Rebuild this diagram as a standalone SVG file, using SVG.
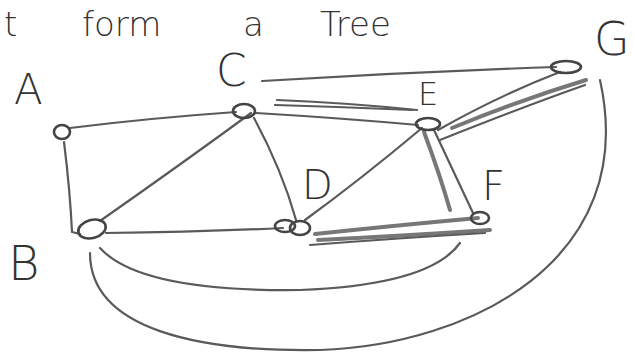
<svg xmlns="http://www.w3.org/2000/svg" width="634" height="356" viewBox="0 0 634 356">
<style>
.e{fill:none;stroke:#5a5a5a;stroke-width:2.2;stroke-linecap:round}
.h{fill:none;stroke:#777;stroke-width:4;stroke-linecap:round}
.n{fill:none;stroke:#444;stroke-width:2.6}
.t{font-family:"DejaVu Sans",sans-serif;fill:#333;font-weight:300}
</style>
<rect width="634" height="356" fill="#fff"/>
<g id="title">
<text class="t" x="4" y="36" font-size="34">t</text>
<text class="t" x="82" y="36" font-size="34">form</text>
<text class="t" x="243" y="36" font-size="34">a</text>
<text class="t" x="320" y="36" font-size="34">Tree</text>
</g>
<g id="connectors">
<path class="e" d="M70,128 Q150,118 236,112"/>
<path class="e" d="M64,142 Q70,190 72,232 L80,234"/>
<path class="e" d="M100,221 Q180,165 251,113"/>
<path class="e" d="M254,118 Q282,170 296,220"/>
<path class="e" d="M256,113 Q340,118 418,125"/>
<path class="e" d="M277,100 Q350,103 417,110"/>
<path class="e" d="M275,105 Q345,107 413,110"/>
<path class="e" d="M262,81 Q410,72 556,67"/>
<path class="e" d="M106,233 Q200,232 283,228"/>
<path class="e" d="M305,220 Q360,180 422,128"/>
<path class="h" d="M424,132 Q440,175 450,210"/>
<path class="e" d="M434,130 Q455,175 473,213"/>
<path class="e" d="M438,130 Q500,95 560,72"/>
<path class="h" d="M452,128 Q520,100 586,80"/>
<path class="e" d="M440,140 Q520,108 585,85"/>
<path class="h" d="M315,234 Q400,225 478,218"/>
<path class="h" d="M318,240 Q400,236 490,230"/>
<path class="e" d="M310,245 Q400,238 485,233"/>
<path class="e" d="M100,248 Q140,292 300,290 Q430,285 460,243"/>
<path class="e" d="M90,253 C90,330 200,352 320,350 C470,345 640,260 600,80"/>
</g>
<g id="A">
<ellipse class="n" cx="62" cy="132" rx="8" ry="7"/>
<text class="t" x="14" y="104" font-size="42">A</text>
</g>
<g id="B">
<ellipse class="n" cx="92" cy="229" rx="14" ry="9" transform="rotate(-15 92 229)"/>
<text class="t" x="8" y="280" font-size="48">B</text>
</g>
<g id="C">
<ellipse class="n" cx="244" cy="111" rx="11" ry="7"/>
<text class="t" x="216" y="86" font-size="44">C</text>
</g>
<g id="D">
<ellipse class="n" cx="285" cy="226" rx="10" ry="6"/>
<ellipse class="n" cx="300" cy="228" rx="10" ry="7"/>
<text class="t" x="302" y="199" font-size="40">D</text>
</g>
<g id="E">
<ellipse class="n" cx="428" cy="124" rx="12" ry="6"/>
<text class="t" x="418" y="105" font-size="32">E</text>
</g>
<g id="F">
<ellipse class="n" cx="480" cy="218" rx="9" ry="6"/>
<text class="t" x="482" y="200" font-size="40">F</text>
</g>
<g id="G">
<ellipse class="n" cx="566" cy="67" rx="15" ry="6"/>
<text class="t" x="594" y="55" font-size="46">G</text>
</g>
</svg>
